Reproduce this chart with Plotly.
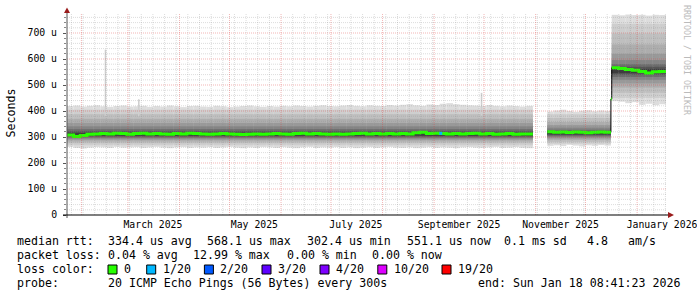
import plotly.graph_objects as go
import pandas as pd

# ---------------- data ----------------
X_START = "2025-01-23 08:41:23"
X_END = "2026-01-18 08:41:23"

# segment 1
seg1_start, seg1_end = "2025-01-23 08:41:23", "2025-10-30 08:41:23"
seg1_median = [308, 302, 306, 311, 312, 313, 312, 314, 313, 311,
               313, 314, 312, 313, 312, 311, 313, 312, 314, 313,
               312, 311, 312, 313, 312, 311, 310, 311, 312, 311,
               312, 313, 312, 311, 313, 314, 312, 313, 312, 311,
               312, 311, 312, 313, 314, 312, 313, 312, 313, 312,
               313, 312, 316, 318, 313, 314, 313, 312, 313, 312,
               313, 314, 312, 313, 311, 312, 313, 311, 312, 312]
seg1_max = [419, 421, 417, 420, 422, 418, 416, 419, 421, 417,
            418, 420, 416, 419, 417, 421, 418, 415, 419, 420,
            417, 416, 420, 418, 415, 417, 419, 421, 418, 416,
            419, 417, 420, 418, 421, 419, 417, 420, 422, 419,
            418, 421, 423, 420, 418, 422, 420, 419, 423, 421,
            424, 426, 422, 420, 425, 423, 428, 430, 426, 424,
            422, 421, 419, 423, 420, 418, 421, 419, 417, 420]
seg1_min = [262, 258, 256, 259, 261, 260, 258, 262, 259, 260,
            261, 258, 260, 262, 259, 257, 260, 261, 258, 260,
            259, 261, 258, 260, 262, 259, 257, 260, 258, 261,
            260, 258, 261, 259, 257, 260, 262, 258, 260, 259,
            261, 258, 260, 257, 259, 261, 258, 260, 262, 259,
            258, 260, 257, 259, 261, 258, 260, 259, 257, 260,
            261, 259, 258, 260, 262, 258, 259, 261, 258, 257]
seg1_band_lo = [268, 276, 283, 289, 294, 298, 302, 305]
seg1_band_hi = [405, 388, 370, 354, 341, 330, 322, 316]

# segment 2
seg2_start, seg2_end = "2025-11-08 00:00:00", "2025-12-16 06:00:00"
seg2_median = [320, 318, 319, 317, 319, 318, 316, 318, 319, 318]
seg2_max = [398, 402, 405, 400, 397, 401, 403, 399, 402, 400]
seg2_min = [266, 268, 265, 270, 267, 264, 268, 266, 269, 267]
seg2_band_lo = [274, 281, 288, 294, 299, 303, 307, 310]
seg2_band_hi = [388, 373, 358, 346, 336, 328, 323, 320]

# transition sample
trans_start, trans_end = "2025-12-16 06:00:00", "2025-12-16 18:00:00"
trans_median = 446

# segment 3
seg3_start, seg3_end = "2025-12-16 18:00:00", X_END
seg3_median = [566, 563, 560, 557, 552, 546, 551, 552]
seg3_max = [770, 768, 771, 769, 770, 767, 770, 769]
seg3_min = [438, 436, 430, 434, 424, 428, 422, 426]
seg3_band_lo = [450, 470, 490, 506, 520, 531, 540, 546]
seg3_band_hi = [735, 698, 656, 620, 596, 580, 570, 562]

band_colors = ['#dddddd', '#cecece', '#bfbfbf', '#adadad', '#999999',
               '#848484', '#6c6c6c', '#555555', '#3d3d3d']

spike_dates = ["2025-02-15 12:00", "2025-03-07 12:00", "2025-09-29 12:00"]
spike_tops = [636, 445, 470]
spike_base = 380

loss1_dates = ["2025-09-05 00:00"]
loss1_values = [314]

y_tickvals = [0, 100, 200, 300, 400, 500, 600, 700]
y_ticktext = ["0", "100 u", "200 u", "300 u", "400 u", "500 u", "600 u", "700 u"]
x_tickvals = ["2025-03-16", "2025-05-16", "2025-07-16", "2025-09-16", "2025-11-16", "2026-01-16"]
x_ticktext = ["March 2025", "May 2025", "July 2025", "September 2025", "November 2025", "January 2026"]

loss_labels = ["0", "1/20", "2/20", "3/20", "4/20", "10/20", "19/20"]
loss_colors = ["#26ff00", "#00b8ff", "#0059ff", "#5e00ff", "#7e00ff", "#dd00ff", "#ff0000"]

# ---------------- helpers ----------------
PL, PR, PT, PB = 67, 666, 13, 215
W, H = 697, 297
YMAX = (PB - PT) / 0.26


def fx(px):
    return (px - PL) / (PR - PL)


def fy(py):
    return (PB - py) / (PB - PT)


def seg_dates(start, end, n):
    s, e = pd.Timestamp(start), pd.Timestamp(end)
    step = (e - s) / n
    return [s + step * i for i in range(n)], step.total_seconds() * 1000


segments = [
    (seg1_start, seg1_end, seg1_median, seg1_max, seg1_min, seg1_band_lo, seg1_band_hi),
    (seg2_start, seg2_end, seg2_median, seg2_max, seg2_min, seg2_band_lo, seg2_band_hi),
    (seg3_start, seg3_end, seg3_median, seg3_max, seg3_min, seg3_band_lo, seg3_band_hi),
]

fig = go.Figure()

# spikes (behind smoke)
sx, sy = [], []
for d, t in zip(spike_dates, spike_tops):
    sx += [d, d, None]
    sy += [spike_base, t, None]
fig.add_trace(go.Scatter(x=sx, y=sy, mode='lines', line=dict(color='#cfcfcf', width=1.6),
                         hoverinfo='skip', showlegend=False))

# smoke bands
seg_info = []
for (st, en, med, mx, mn, blo, bhi) in segments:
    xs, wms = seg_dates(st, en, len(med))
    seg_info.append((xs, wms, med, en))

for k in range(len(band_colors)):
    bx, by, bb, bw = [], [], [], []
    for (st, en, med, mx, mn, blo, bhi), (xs, wms, _, _) in zip(segments, seg_info):
        n = len(med)
        if k == 0:
            lo, hi = mn, mx
        else:
            lo, hi = [blo[k - 1]] * n, [bhi[k - 1]] * n
        bx += xs
        bb += lo
        by += [h - l for h, l in zip(hi, lo)]
        bw += [wms] * n
    fig.add_trace(go.Bar(x=bx, y=by, base=bb, width=bw, offset=0,
                         marker=dict(color=band_colors[k], line=dict(width=0)),
                         opacity=1, hoverinfo='skip', showlegend=False))

# median lines
def hv_xy(xs, vals, end):
    return list(xs) + [pd.Timestamp(end)], list(vals) + [vals[-1]]

(x1, _, m1, e1), (x2, _, m2, e2), (x3, _, m3, e3) = seg_info
ax1, ay1 = hv_xy(x1, m1, e1)
ax2, ay2 = hv_xy(x2, m2, e2)
axt, ayt = hv_xy([pd.Timestamp(trans_start)], [trans_median], trans_end)
ax3, ay3 = hv_xy(x3, m3, e3)

# black connecting line
bxl = ax1 + [None] + list(x2) + [pd.Timestamp(trans_start)] + list(x3) + [pd.Timestamp(e3)]
byl = ay1 + [None] + list(m2) + [trans_median] + list(m3) + [m3[-1]]
fig.add_trace(go.Scatter(x=bxl, y=byl, mode='lines', line=dict(color='#000000', width=1, shape='hv'),
                         connectgaps=False, hoverinfo='skip', showlegend=False))
gx = ax1 + [None] + ax2 + [None] + axt + [None] + ax3
gy = ay1 + [None] + ay2 + [None] + ayt + [None] + ay3
fig.add_trace(go.Scatter(x=gx, y=gy, mode='lines', line=dict(color=loss_colors[0], width=3, shape='hv'),
                         connectgaps=False, hoverinfo='skip', showlegend=False))
fig.add_trace(go.Scatter(x=loss1_dates, y=loss1_values, mode='markers',
                         marker=dict(symbol='square', size=3, color=loss_colors[1], line=dict(width=0)),
                         hoverinfo='skip', showlegend=False))

# ---------------- grid (drawn above data, like rrdtool) ----------------
shapes = []
GRAY = 'rgba(140,140,140,0.30)'
RED = 'rgba(220,60,60,0.38)'
for v in range(20, int(YMAX) + 1, 20):
    major = v % 100 == 0
    shapes.append(dict(type='line', layer='above', xref='paper', yref='y', x0=0, x1=1, y0=v, y1=v,
                       line=dict(color=RED if major else GRAY, width=1, dash='1px,1px')))
month_starts = set(pd.date_range("2025-02-01", X_END, freq='MS'))
for d in pd.date_range("2025-01-26", X_END, freq='7D'):
    if d in month_starts:
        continue
    shapes.append(dict(type='line', layer='above', xref='x', yref='paper', x0=d, x1=d, y0=0, y1=1,
                       line=dict(color=GRAY, width=1, dash='1px,1px')))
for d in sorted(month_starts):
    shapes.append(dict(type='line', layer='above', xref='x', yref='paper', x0=d, x1=d, y0=0, y1=1,
                       line=dict(color=RED, width=1, dash='1px,1px')))

# axes + arrows
shapes.append(dict(type='line', layer='above', xref='paper', yref='paper',
                   x0=fx(67), x1=fx(67), y0=fy(218), y1=fy(12), line=dict(color='#555555', width=1)))
shapes.append(dict(type='line', layer='above', xref='paper', yref='paper',
                   x0=fx(63), x1=fx(669), y0=fy(215), y1=fy(215), line=dict(color='#000000', width=1.2)))
ARROW = '#9a1c1c'
shapes.append(dict(type='path', layer='above', xref='paper', yref='paper',
                   path=f"M {fx(64)} {fy(13)} L {fx(70)} {fy(13)} L {fx(67)} {fy(7.5)} Z",
                   fillcolor=ARROW, line=dict(width=0)))
shapes.append(dict(type='path', layer='above', xref='paper', yref='paper',
                   path=f"M {fx(668)} {fy(212)} L {fx(668)} {fy(218)} L {fx(674)} {fy(215)} Z",
                   fillcolor=ARROW, line=dict(width=0)))

# ---------------- legend text ----------------
MONO = "DejaVu Sans Mono"
LF = dict(family=MONO, size=11.6, color='#000000')
ann = []


def txt(px, py, s, font=LF, **kw):
    d = dict(xref='paper', yref='paper', x=fx(px), y=fy(py), text=s.replace(' ', '\u00a0'),
             showarrow=False, xanchor='left', yanchor='middle', font=font, borderpad=0)
    d.update(kw)
    ann.append(d)


line1 = [(16, "median rtt:"), (106.5, "334.4 us avg"), (206, "568.1 us max"), (305.7, "302.4 us min"),
         (406, "551.1 us now"), (502.6, "0.1 ms sd"), (585.7, "4.8"), (627, "am/s")]
for px, s in line1:
    txt(px, 241, s)
line2 = [(16, "packet loss:"), (106.5, "0.04 % avg"), (192.3, "12.99 % max"), (285.7, "0.00 % min"),
         (371.4, "0.00 % now")]
for px, s in line2:
    txt(px, 255, s)
txt(16, 269, "loss color:")
sq_x = [108, 146.7, 204.4, 262, 320, 377.8, 442]
for px, lab, col in zip(sq_x, loss_labels, loss_colors):
    shapes.append(dict(type='rect', layer='above', xref='paper', yref='paper',
                       x0=fx(px), x1=fx(px + 9), y0=fy(274), y1=fy(265),
                       fillcolor=col, line=dict(color='#000000', width=1)))
    txt(px + 15, 269, lab)
txt(16, 283, "probe:")
txt(106.5, 283, "20 ICMP Echo Pings (56 Bytes) every 300s")
txt(476.8, 283, "end: Sun Jan 18 08:41:23 2026")

# y title and watermark
ann.append(dict(xref='paper', yref='paper', x=fx(10), y=fy(113.5), text="Seconds", textangle=-90,
                showarrow=False, xanchor='center', yanchor='middle', font=LF))
ann.append(dict(xref='paper', yref='paper', x=fx(687), y=fy(60), text="RRDTOOL / TOBI OETIKER", textangle=90,
                showarrow=False, xanchor='center', yanchor='middle',
                font=dict(family=MONO, size=8.3, color='#bbbbbb')))

AF = dict(family=MONO, size=9.8, color='#000000')
fig.update_layout(
    width=W, height=H, autosize=False,
    margin=dict(l=PL, r=W - PR, t=PT, b=H - PB, pad=0, autoexpand=False),
    paper_bgcolor='#ffffff', plot_bgcolor='#ffffff',
    barmode='overlay', showlegend=False,
    shapes=shapes, annotations=ann,
    xaxis=dict(type='date', range=[X_START, X_END], tickvals=x_tickvals, ticktext=x_ticktext,
               showgrid=False, zeroline=False, showline=False, ticks='', tickfont=AF, automargin=False,
               ticklabeloverflow='allow', ticklabelstandoff=2, fixedrange=True),
    yaxis=dict(range=[0, YMAX], tickvals=y_tickvals, ticktext=y_ticktext, showgrid=False,
               zeroline=False, showline=False, ticks='outside', ticklen=3, tickcolor='#555555',
               tickfont=AF, ticklabelstandoff=4, automargin=False,
               minor=dict(ticks='outside', ticklen=2, dtick=20, tick0=0, tickcolor='#888888', showgrid=False),
               fixedrange=True),
)

fig.write_html("out.html", config={'displayModeBar': False, 'staticPlot': True})
